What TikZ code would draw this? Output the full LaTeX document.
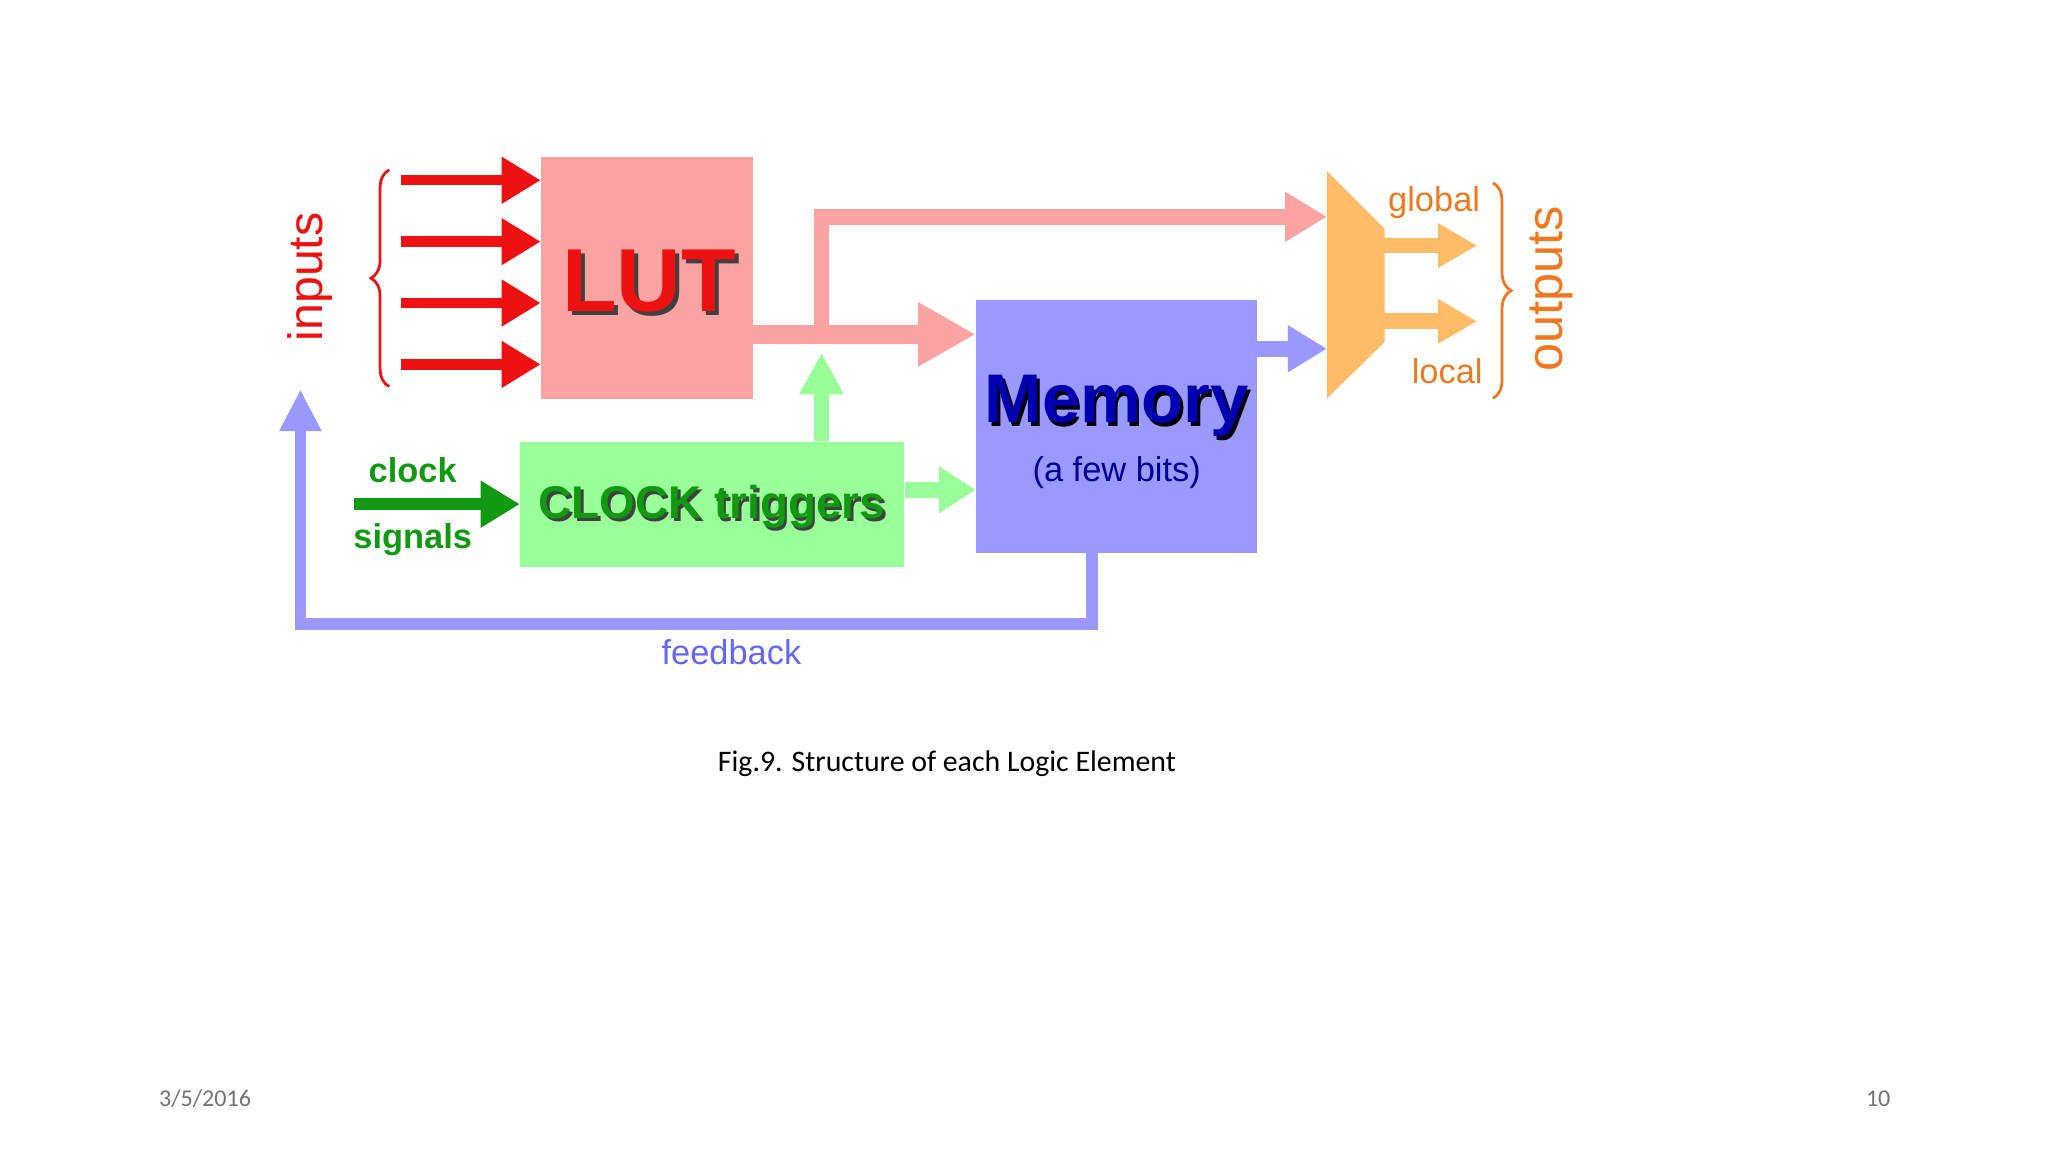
\documentclass[tikz,border=0pt]{standalone}
\usepackage{fontspec}
\setmainfont{Liberation Sans}
\newfontfamily\carlito{Carlito}
\usetikzlibrary{arrows.meta,decorations.pathreplacing}
\definecolor{lutred}{HTML}{F9A3A3}
\definecolor{inred}{HTML}{EE1111}
\definecolor{clkgreen}{HTML}{99FF99}
\definecolor{dkgreen}{HTML}{119911}
\definecolor{memblue}{HTML}{9999FF}
\definecolor{orng}{HTML}{FFBB66}
\definecolor{orngtxt}{HTML}{F07820}
\tikzset{
 box/.style={draw=none, inner sep=0, anchor=north west},
 lbl/.style={inner sep=0}
}
\newcommand{\fsz}[1]{\fontsize{#1}{#1}\selectfont}
\begin{document}
\begin{tikzpicture}[x=0.02cm,y=-0.02cm]
\useasboundingbox (0,0) rectangle (1568,882);
% boxes
\node[box, fill=lutred, minimum width=162*0.02cm, minimum height=185*0.02cm] (lut) at (414,120) {};
\node[box, fill=clkgreen, minimum width=294*0.02cm, minimum height=96*0.02cm] (clk) at (398,338) {};
\node[box, fill=memblue, minimum width=215*0.02cm, minimum height=194*0.02cm] (mem) at (747,229) {};
\fill[orng] (1016,131) -- (1060,175) -- (1060,262) -- (1016,305) -- cycle;
\coordinate (muxin1) at (1016,166);
\coordinate (muxin2) at (1016,267);
% inputs
\foreach \y in {138,185,232,279}{
 \coordinate (i\y) at (307,\y);
 \draw[inred, line width=8*0.02cm, -{Triangle[length=30*0.02cm,width=34*0.02cm]}] (i\y) -- (lut.west |- i\y);
}
\draw[inred, line width=1.2pt, decorate, decoration={brace, amplitude=14*0.02cm, mirror}] (298,130) -- (298,296);
\node[lbl, inred, rotate=90, font=\fsz{21}] (inp) at (237,212) {inputs};
% LUT text
\node[lbl, font=\fsz{39}\bfseries, text=black!75] at (500,218) {LUT};
\node[lbl, font=\fsz{39}\bfseries, text=inred] (luttxt) at (497,215) {LUT};
% LUT -> memory
\coordinate (lo) at (576,256);
\coordinate (br) at (629,256);
\draw[lutred, line width=14*0.02cm, -{Triangle[length=44*0.02cm,width=46*0.02cm]}] (lo) -- (mem.west |- lo);
\draw[lutred, line width=12*0.02cm, -{Triangle[length=32*0.02cm,width=36*0.02cm]}] (br) -- (629,166) -- (muxin1);
% clock up
\draw[clkgreen, line width=12*0.02cm, -{Triangle[length=32*0.02cm,width=32*0.02cm]}] (clk.north -| br) -- (629,270);
\draw[clkgreen, line width=12*0.02cm, -{Triangle[length=28*0.02cm,width=34*0.02cm]}] (clk.east |- 0,375) -- (mem.west |- 0,375);
% clock text
\node[lbl, font=\fsz{20}\bfseries, text=black!75] at (547,390) {CLOCK triggers};
\node[lbl, font=\fsz{20}\bfseries, text=dkgreen] at (545,388) {CLOCK triggers};
% clock signals
\coordinate (cs) at (271,386);
\draw[dkgreen, line width=9*0.02cm, -{Triangle[length=30*0.02cm,width=34*0.02cm]}] (cs) -- (clk.west |- cs);
\node[lbl, font=\fsz{15}\bfseries, text=dkgreen] at (316,360) {clock};
\node[lbl, font=\fsz{15}\bfseries, text=dkgreen] at (316,413) {signals};
% memory text
\node[lbl, font=\fsz{30}\bfseries, text=black] at (857,314) {Memory};
\node[lbl, font=\fsz{30}\bfseries, text=blue!70!black] at (855,311) {Memory};
\node[lbl, font=\fsz{15}, text=blue!60!black] at (855,362) {(a few bits)};
% memory -> mux
\draw[memblue, line width=12*0.02cm, -{Triangle[length=30*0.02cm,width=34*0.02cm]}] (mem.east |- muxin2) -- (muxin2);
% outputs
\draw[orng, line width=12*0.02cm, -{Triangle[length=30*0.02cm,width=32*0.02cm]}] (1058,188) -- (1131,188);
\draw[orng, line width=12*0.02cm, -{Triangle[length=30*0.02cm,width=32*0.02cm]}] (1058,246) -- (1131,246);
\node[lbl, font=\fsz{15}, text=orngtxt] at (1098,155) {global};
\node[lbl, font=\fsz{15}, text=orngtxt] at (1108,284) {local};
\draw[orngtxt, line width=1.2pt, decorate, decoration={brace, amplitude=14*0.02cm}] (1143,140) -- (1143,305);
\node[lbl, orngtxt, rotate=90, font=\fsz{22}] at (1188,221) {outputs};
% feedback
\coordinate (fbend) at (230,298);
\draw[memblue, line width=9*0.02cm, -{Triangle[length=32*0.02cm,width=30*0.02cm]}] (mem.south -| 836,0) -- (836,478) -- (230,478) -- (fbend);
\node[lbl, font=\fsz{15}, text=blue!60] at (560,499) {feedback};
% caption
\node[lbl, font=\carlito\fsz{13}] at (725,585) {Fig.9. Structure of each Logic Element};
\node[lbl, font=\carlito\fsz{10.5}, text=black!55] at (157,841) {3/5/2016};
\node[lbl, font=\carlito\fsz{10.5}, text=black!55] at (1438,841) {10};
\end{tikzpicture}
\end{document}
